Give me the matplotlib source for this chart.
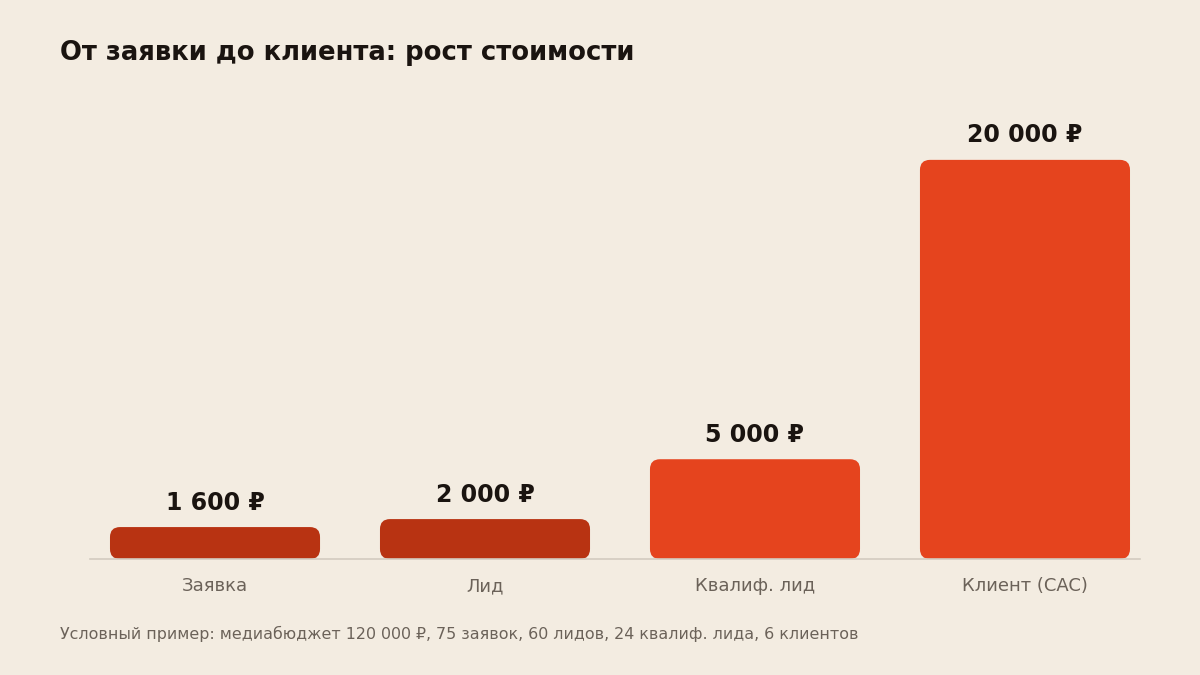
import matplotlib.pyplot as plt
from matplotlib.patches import FancyBboxPatch

stages = ['Заявка', 'Лид', 'Квалиф. лид', 'Клиент (CAC)']
costs = [1600, 2000, 5000, 20000]
labels = ['1 600 ₽', '2 000 ₽', '5 000 ₽', '20 000 ₽']
colors = ['#B83312', '#B83312', '#E5441E', '#E5441E']

bg = '#F3ECE1'
W, H = 1200, 675
fig = plt.figure(figsize=(12, 6.75), dpi=100, facecolor=bg)
# axes placed in pixels: x 90..1140, y 100..559
ax = fig.add_axes([90 / W, (H - 559) / H, 1050 / W, 459 / H], facecolor=bg)

ymax = 23000
ax.set_xlim(-0.463, 3.426)
ax.set_ylim(0, ymax)

bw = 0.778
# aspect for rounding: data-y per pixel / data-x per pixel
px_x = (3.426 + 0.463) / 1050
px_y = ymax / 459
aspect = px_y / px_x
for i, (v, c) in enumerate(zip(costs, colors)):
    p = FancyBboxPatch((i - bw / 2, 0), bw, v,
                       boxstyle='round,pad=0,rounding_size=%f' % (10 * px_x),
                       mutation_aspect=aspect, fc=c, ec='none')
    ax.add_patch(p)
    ax.annotate(labels[i], (i, v), xytext=(0, 9), textcoords='offset points',
                ha='center', va='bottom', fontsize=17, fontweight='bold', color='#1a1410')

for s in ['top', 'right', 'left']:
    ax.spines[s].set_visible(False)
ax.spines['bottom'].set_color('#D3CBC0')
ax.spines['bottom'].set_linewidth(1.2)
ax.set_yticks([])
ax.set_xticks(range(len(stages)))
ax.set_xticklabels(stages, fontsize=13, color='#6B6259')
ax.tick_params(axis='x', length=0, pad=13)

fig.text(60 / W, 1 - 60 / H, 'От заявки до клиента: рост стоимости',
         fontsize=18.6, fontweight='bold', color='#1a1410', ha='left', va='baseline')
fig.text(60 / W, 1 - 639 / H,
         'Условный пример: медиабюджет 120 000 ₽, 75 заявок, 60 лидов, 24 квалиф. лида, 6 клиентов',
         fontsize=11.4, color='#6B6259', ha='left', va='baseline')

fig.savefig('out.png', dpi=100, facecolor=bg)
